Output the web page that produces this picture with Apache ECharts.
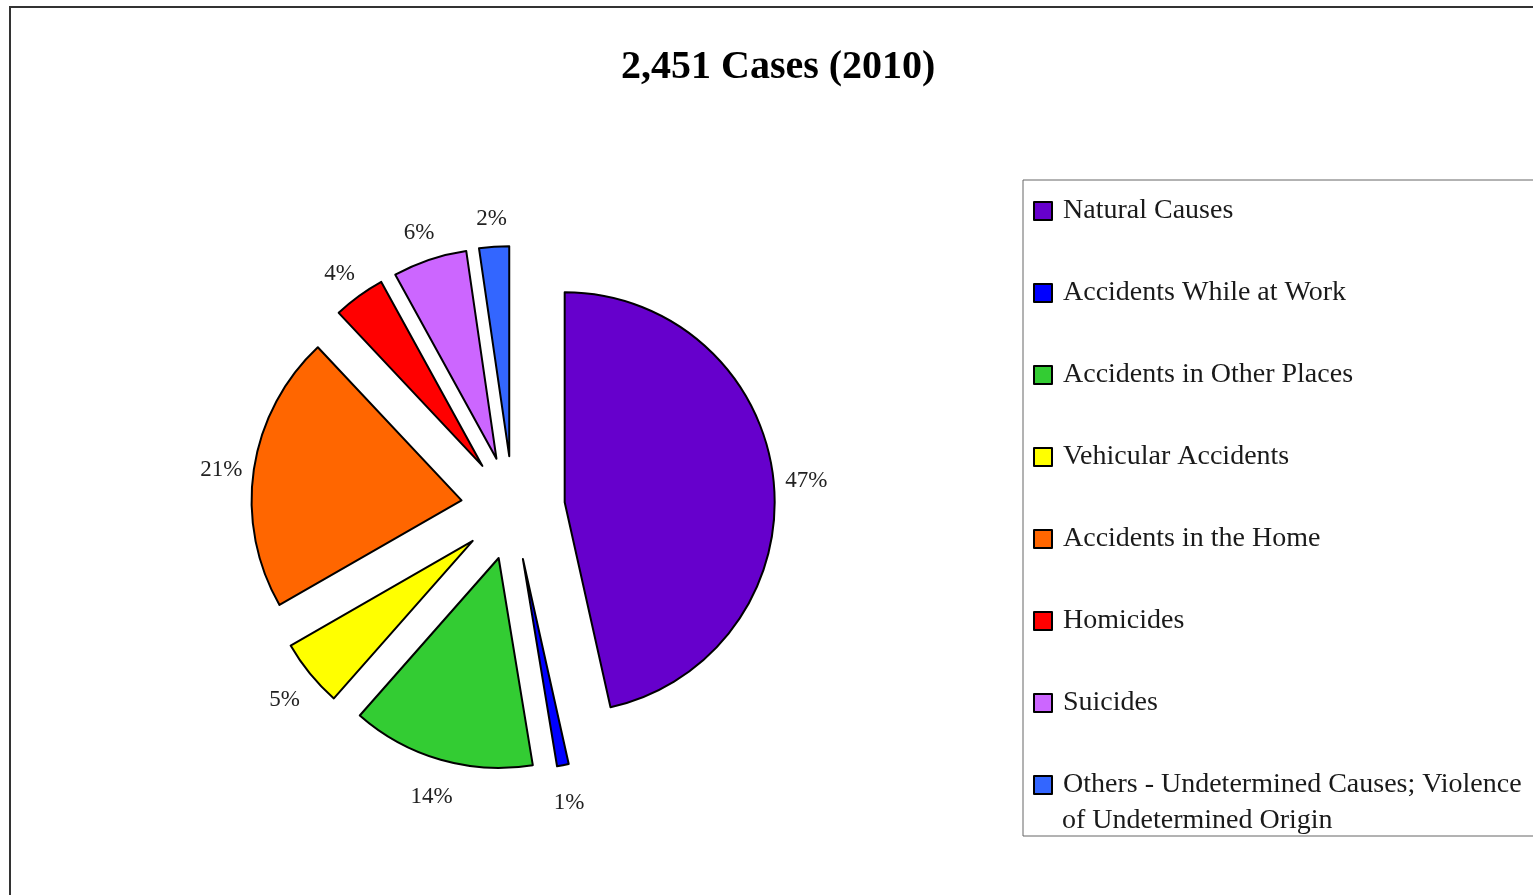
<!DOCTYPE html>
<html>
<head>
<meta charset="utf-8">
<script src="https://cdn.jsdelivr.net/npm/echarts@6/dist/echarts.min.js"></script>
<style>
html,body{margin:0;padding:0;background:#fff;}
#chart{width:1533px;height:895px;}
</style>
</head>
<body>
<div id="chart"></div>
<script>
const titleText = '2,451 Cases (2010)';
const categories = [
  'Natural Causes',
  'Accidents While at Work',
  'Accidents in Other Places',
  'Vehicular Accidents',
  'Accidents in the Home',
  'Homicides',
  'Suicides',
  'Others - Undetermined Causes; Violence of Undetermined Origin'
];
// shares in percent (labels round them to whole percents)
const shareValues = [46.5, 0.9, 14.1, 5.2, 21.3, 4.0, 5.7, 2.3];
const sliceColors = ['#6600CC', '#0000FF', '#33CC33', '#FFFF00', '#FF6600', '#FF0000', '#CC66FF', '#3366FF'];
const lastLegendFirstLine = 'Others - Undetermined Causes; Violence';
const lastLegendSecondLine = 'of Undetermined Origin';

const SERIF = '"Liberation Serif", "DejaVu Serif", serif';
const chart = echarts.init(document.getElementById('chart'), null, {renderer: 'canvas'});

const mainData = categories.map((name, i) => ({
  name: name,
  value: shareValues[i],
  selected: true,
  itemStyle: {color: sliceColors[i]}
}));
const labelData = categories.map((name, i) => ({name: name, value: shareValues[i]}));

const option = {
  backgroundColor: '#ffffff',
  animation: false,
  title: {
    text: titleText,
    left: 621,
    top: 48,
    padding: 0,
    textStyle: {fontFamily: SERIF, fontWeight: 'bold', fontSize: 40, color: '#000', lineHeight: 40}
  },
  legend: {
    orient: 'vertical',
    left: 1023,
    top: 180,
    padding: [16, 80, 36, 10],
    borderColor: '#666',
    borderWidth: 1,
    itemWidth: 18,
    itemHeight: 18,
    itemGap: 52,
    icon: 'rect',
    selectedMode: false,
    itemStyle: {borderColor: '#000', borderWidth: 2},
    data: categories,
    formatter: function (name) {
      return name === categories[categories.length - 1] ? lastLegendFirstLine : name;
    },
    textStyle: {fontFamily: SERIF, fontSize: 28, color: '#1a1a1a', lineHeight: 30, padding: [0, 0, 0, 6]}
  },
  graphic: [
    {
      type: 'rect',
      shape: {x: 10, y: 7, width: 3000, height: 3000},
      style: {fill: 'none', stroke: '#333', lineWidth: 2},
      silent: true,
      z: -10
    },
    {
      type: 'text',
      left: 1062,
      top: 807,
      style: {text: lastLegendSecondLine, font: '28px ' + SERIF, fill: '#1a1a1a'},
      silent: true
    }
  ],
  series: [
    {
      type: 'pie',
      name: 'cases',
      center: [513, 508],
      radius: 210,
      startAngle: 90,
      clockwise: true,
      selectedMode: 'multiple',
      selectedOffset: 52,
      avoidLabelOverlap: false,
      label: {show: false},
      labelLine: {show: false},
      itemStyle: {borderColor: '#000', borderWidth: 2},
      emphasis: {disabled: true, scale: false},
      select: {itemStyle: {borderColor: '#000', borderWidth: 2}},
      data: mainData
    },
    {
      type: 'pie',
      name: 'labels',
      center: [513, 508],
      radius: [286, 298],
      startAngle: 90,
      clockwise: true,
      silent: true,
      selectedMode: false,
      avoidLabelOverlap: false,
      percentPrecision: 0,
      itemStyle: {color: 'rgba(0,0,0,0)', borderWidth: 0},
      emphasis: {disabled: true},
      labelLine: {show: false},
      label: {
        show: true,
        position: 'inside',
        formatter: '{d}%',
        fontFamily: SERIF,
        fontSize: 23,
        color: '#222',
        padding: [14, 0, 0, 0],
        offset: [0, 5]
      },
      data: labelData
    }
  ]
};
chart.setOption(option);
</script>
</body>
</html>
